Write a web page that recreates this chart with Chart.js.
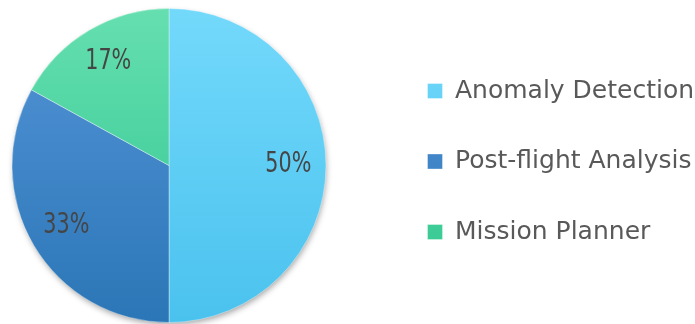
<!DOCTYPE html>
<html>
<head>
<meta charset="utf-8">
<title>Usage Share</title>
<script src="https://cdn.jsdelivr.net/npm/chart.js@4/dist/chart.umd.min.js"></script>
<style>
    html, body { margin: 0; padding: 0; background: #fff; }
    #wrap { width: 695px; height: 324px; position: relative; }
</style>
</head>
<body>
<div id="wrap"><canvas id="pieChart"></canvas></div>
<script>
// Chart data
const categories = ['Anomaly Detection', 'Post-flight Analysis', 'Mission Planner'];
const shares = [50, 33, 17];

// Slice colours, top -> bottom of the pie
const colorTop = ['#73d9fb', '#5495d8', '#66dfb0'];
const colorBottom = ['#4ac2ee', '#2b76b6', '#2cc48e'];

// Vertical gradient across the whole pie, one per slice
function sliceGradient(ctx) {
    const chart = ctx.chart;
    const area = chart.chartArea;
    const i = ctx.dataIndex;
    if (!area) return colorBottom[i];
    const g = chart.ctx.createLinearGradient(0, area.top, 0, area.bottom);
    g.addColorStop(0, colorTop[i]);
    g.addColorStop(1, colorBottom[i]);
    return g;
}

// Pie sits left of centre: leave a gap between pie and legend
const pieGap = {
    id: 'pieGap',
    afterLayout(chart) {
        const area = chart.chartArea;
        area.right -= 44;
        area.width = area.right - area.left;
    }
};

// Soft drop shadow under the whole pie
const pieShadow = {
    id: 'pieShadow',
    beforeDatasetsDraw(chart) {
        const arc = chart.getDatasetMeta(0).data[0];
        if (!arc) return;
        const { x, y, outerRadius } = arc.getProps(['x', 'y', 'outerRadius'], true);
        const ctx = chart.ctx;
        ctx.save();
        ctx.shadowColor = 'rgba(0, 0, 0, 0.38)';
        ctx.shadowBlur = 6;
        ctx.shadowOffsetX = 1;
        ctx.shadowOffsetY = 3;
        ctx.fillStyle = '#ffffff';
        ctx.beginPath();
        ctx.arc(x, y, outerRadius - 1, 0, Math.PI * 2);
        ctx.fill();
        ctx.restore();
    }
};

// Percent labels inside the slices
const sliceLabels = {
    id: 'sliceLabels',
    afterDatasetsDraw(chart) {
        const ctx = chart.ctx;
        const meta = chart.getDatasetMeta(0);
        meta.data.forEach((arc, i) => {
            const p = arc.getProps(['x', 'y', 'startAngle', 'endAngle', 'outerRadius'], true);
            const mid = (p.startAngle + p.endAngle) / 2;
            const r = p.outerRadius * 0.76;
            ctx.save();
            ctx.translate(p.x + Math.cos(mid) * r, p.y + Math.sin(mid) * r);
            ctx.scale(0.74, 1); // narrow figures like the original
            ctx.font = '28px "DejaVu Sans"';
            ctx.fillStyle = '#454545';
            ctx.textAlign = 'center';
            ctx.textBaseline = 'middle';
            ctx.fillText(shares[i] + '%', 0, -1);
            ctx.restore();
        });
    }
};

const ctx = document.getElementById('pieChart').getContext('2d');
const chart = new Chart(ctx, {
    type: 'pie',
    data: {
        labels: categories,
        datasets: [{
            data: shares,
            backgroundColor: sliceGradient,
            borderColor: 'rgba(255, 255, 255, 0.35)',
            borderWidth: 1,
            hoverOffset: 0
        }]
    },
    options: {
        responsive: true,
        maintainAspectRatio: false,
        animation: false,
        layout: {
            padding: { left: 0, right: 0, top: 8, bottom: 1 }
        },
        plugins: {
            tooltip: { enabled: false },
            legend: {
                position: 'right',
                align: 'start',
                maxWidth: 313,
                title: {
                    display: true,
                    text: '',
                    font: { size: 10 },
                    padding: { top: 0, bottom: 13 }
                },
                labels: {
                    boxWidth: 15,
                    boxHeight: 15,
                    padding: 45.5,
                    color: '#595959',
                    font: { family: '"DejaVu Sans"', size: 25 }
                }
            }
        }
    },
    plugins: [pieGap, pieShadow, sliceLabels]
});
</script>
</body>
</html>
